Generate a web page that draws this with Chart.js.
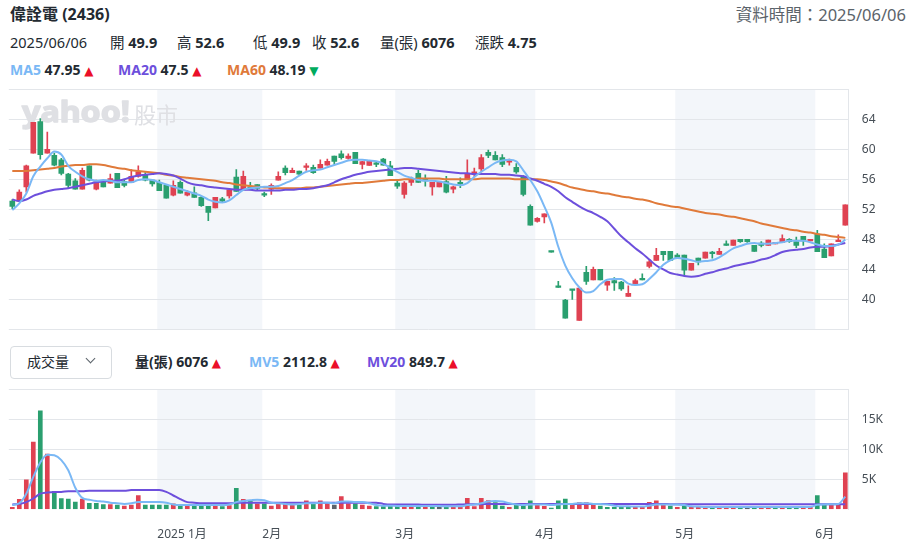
<!DOCTYPE html>
<html>
<head>
<meta charset="utf-8">
<script src="https://cdn.jsdelivr.net/npm/chart.js@4.4.1/dist/chart.umd.min.js"></script>
<style>
  body { margin: 0; width: 917px; height: 542px; position: relative; overflow: hidden; background: #fff;
         font-family: "Noto Sans", "Noto Sans CJK TC", sans-serif; color: #232a31; }
  .t { position: absolute; white-space: nowrap; line-height: 1; }
  .b { font-weight: 700; }
  .up { color: #eb0f29; font-family: "DejaVu Sans"; font-size: 12px; }
  .dn { color: #00ab5e; font-family: "DejaVu Sans"; font-size: 12px; }
  canvas { position: absolute; left: 0; }
  #box { position: absolute; left: 10px; top: 346px; width: 100px; height: 31px; border: 1.5px solid #d8dce0; border-radius: 4px; }
  #chev { position: absolute; left: 87px; top: 355px; width: 6px; height: 6px; border-right: 1.5px solid #5b636a; border-bottom: 1.5px solid #5b636a; transform: rotate(45deg); }
</style>
</head>
<body>
<div class="t b" style="left:10px;top:6px;font-size:16px">偉詮電 (2436)</div>
<div class="t" style="right:11px;top:7px;font-size:16.5px;color:#5b636a">資料時間：2025/06/06</div>

<div class="t" style="left:10px;top:35px;font-size:14.5px">2025/06/06</div>
<div class="t" style="left:110px;top:35px;font-size:14.5px">開 <span class="b">49.9</span></div>
<div class="t" style="left:177px;top:35px;font-size:14.5px">高 <span class="b">52.6</span></div>
<div class="t" style="left:253px;top:35px;font-size:14.5px">低 <span class="b">49.9</span></div>
<div class="t" style="left:312px;top:35px;font-size:14.5px">收 <span class="b">52.6</span></div>
<div class="t" style="left:380px;top:35px;font-size:14.5px">量(張) <span class="b">6076</span></div>
<div class="t" style="left:475px;top:35px;font-size:14.5px">漲跌 <span class="b">4.75</span></div>

<div class="t b" style="left:10px;top:63px;font-size:14px"><span style="color:#7ab8f5">MA5</span> 47.95 <span class="up">▲</span></div>
<div class="t b" style="left:118px;top:63px;font-size:14px"><span style="color:#6d4fdc">MA20</span> 47.5 <span class="up">▲</span></div>
<div class="t b" style="left:227px;top:63px;font-size:14px"><span style="color:#e07a3a">MA60</span> 48.19 <span class="dn">▼</span></div>

<canvas id="price" width="917" height="260" style="top:80px"></canvas>

<div id="box"></div>
<div class="t" style="left:27px;top:355px;font-size:14px">成交量</div>
<div id="chev"></div>
<div class="t b" style="left:135px;top:355px;font-size:14px">量(張) 6076 <span class="up">▲</span></div>
<div class="t b" style="left:249px;top:355px;font-size:14px"><span style="color:#7ab8f5">MV5</span> 2112.8 <span class="up">▲</span></div>
<div class="t b" style="left:367px;top:355px;font-size:14px"><span style="color:#6d4fdc">MV20</span> 849.7 <span class="up">▲</span></div>

<canvas id="vol" width="917" height="162" style="top:380px"></canvas>

<script>
// trading days per month
const dec = [3,4,5,6,9,10,11,12,13,16,17,18,19,20,23,24,25,26,27,30,31];
const jan = [2,3,6,7,8,9,10,13,14,15,16,17,20,21,22];
const feb = [3,4,5,6,7,10,11,12,13,14,17,18,19,20,21,24,25,26,27];
const mar = [3,4,5,6,7,10,11,12,13,14,17,18,19,20,21,24,25,26,27,28];
const apr = [1,2,7,8,9,10,11,14,15,16,17,18,21,22,23,24,25,28,29,30];
const may = [2,5,6,7,8,9,12,13,14,15,16,19,20,21,22,23,26,27,28,29];
const jun = [2,3,4,5,6];

const monthLabels = { 1: '2025 1月', 2: '2月', 3: '3月', 4: '4月', 5: '5月', 6: '6月' };
const shadedMonths = [1, 3, 5];

const opens = [
  53.1, 53.1, 55.0, 59.5, 63.7, 59.5, 59.2, 58.6, 56.7, 55.8,
  54.7, 57.8, 54.7, 55.6, 55.5, 56.8, 55.7, 55.6, 56.4, 56.6,
  55.9, 55.6, 55.2, 53.9, 55.6, 53.9, 54.2, 53.6, 52.4, 52.2,
  53.4, 53.8, 56.3, 54.6, 55.0, 55.3, 53.9, 54.7, 55.9, 57.5,
  56.9, 57.1, 57.6, 57.6, 57.5, 57.9, 59.1, 59.4, 58.8, 59.6,
  58.0, 57.85, 58.0, 58.7, 57.8, 55.5, 54.0, 55.6, 56.8, 56.0,
  55.0, 55.0, 55.7, 54.7, 55.6, 56.0, 56.8, 57.4, 59.6, 59.2,
  58.9, 58.3, 57.6, 56.3, 52.4, 50.4, 51.0, 46.3, 41.6, 39.9,
  41.2, 37.2, 43.6, 42.6, 44.0, 41.9, 42.5, 42.3, 40.4, 42.0,
  42.8, 44.4, 45.2, 46.4, 46.4, 45.9, 45.9, 43.9, 45.5, 45.5,
  46.3, 46.0, 47.2, 47.2, 48.0, 48.0, 47.2, 47.5, 47.2, 47.4,
  47.6, 48.0, 47.7, 48.4, 47.8, 48.7, 46.7, 45.8, 47.7, 49.9
];
const highs = [
  53.3, 54.6, 57.9, 63.6, 64.1, 62.3, 59.5, 58.8, 56.8, 56.1,
  57.5, 57.8, 55.9, 55.9, 56.7, 56.8, 55.9, 57.3, 57.8, 56.9,
  56.0, 55.9, 55.2, 55.8, 55.8, 54.5, 55.0, 53.7, 52.4, 53.6,
  53.6, 54.6, 57.3, 57.1, 55.6, 55.3, 54.3, 55.4, 57.0, 57.8,
  57.5, 57.1, 58.1, 57.9, 58.6, 58.7, 59.1, 59.8, 59.4, 59.6,
  58.4, 58.45, 58.4, 58.8, 58.4, 55.9, 55.7, 56.3, 57.2, 56.6,
  55.6, 55.6, 56.4, 55.1, 56.2, 58.6, 57.5, 59.3, 59.9, 59.7,
  59.3, 58.7, 58.1, 56.5, 52.6, 50.9, 51.4, 46.3, 42.4, 40.0,
  41.2, 41.5, 44.4, 44.3, 44.0, 42.4, 42.9, 42.4, 41.8, 42.7,
  43.4, 45.3, 46.8, 46.4, 46.4, 46.1, 45.9, 44.8, 45.5, 46.3,
  46.4, 46.8, 47.8, 47.9, 48.0, 48.0, 47.2, 47.7, 47.9, 47.6,
  48.6, 48.1, 48.3, 48.4, 48.0, 49.2, 47.4, 47.4, 48.6, 52.6
];
const lows = [
  52.1, 53.1, 54.3, 59.5, 58.7, 59.5, 57.8, 56.6, 54.8, 54.7,
  54.7, 55.8, 54.6, 55.0, 55.5, 54.9, 55.0, 55.6, 56.3, 55.8,
  55.1, 54.5, 53.5, 53.8, 54.15, 53.8, 53.6, 52.4, 50.5, 52.2,
  53.0, 53.5, 54.4, 54.6, 54.6, 54.6, 53.7, 54.0, 55.9, 56.6,
  56.9, 56.6, 57.2, 56.8, 57.5, 57.9, 58.0, 58.7, 58.7, 58.1,
  57.4, 57.85, 57.7, 57.9, 56.5, 54.8, 53.5, 55.2, 55.6, 55.1,
  53.9, 55.0, 54.2, 54.2, 54.9, 56.0, 56.4, 57.0, 58.9, 58.6,
  57.7, 57.9, 56.8, 53.8, 49.9, 50.3, 50.2, 46.3, 41.6, 37.5,
  40.0, 37.2, 42.0, 42.6, 42.6, 41.2, 41.2, 41.2, 40.4, 41.9,
  42.6, 44.2, 45.2, 45.2, 45.2, 45.6, 43.2, 43.9, 44.6, 45.5,
  45.5, 46.0, 47.2, 47.2, 47.6, 47.6, 46.4, 47.0, 47.2, 47.4,
  47.6, 47.6, 46.9, 47.2, 47.8, 46.35, 45.55, 45.8, 47.7, 49.9
];
const closes = [
  52.4, 54.3, 57.8, 63.6, 59.3, 60.0, 57.9, 56.8, 55.2, 54.7,
  57.2, 55.9, 55.7, 55.0, 56.1, 54.9, 55.2, 56.4, 57.0, 55.9,
  55.4, 54.5, 53.5, 55.2, 54.15, 54.25, 53.6, 52.5, 51.6, 53.6,
  53.1, 54.6, 54.4, 56.4, 54.7, 54.8, 53.9, 55.2, 56.4, 56.9,
  57.2, 56.7, 57.65, 56.9, 58.0, 58.4, 58.4, 58.9, 59.1, 58.1,
  58.35, 58.45, 58.0, 57.9, 56.5, 55.1, 55.5, 56.0, 55.6, 55.8,
  55.6, 55.6, 54.3, 55.0, 55.4, 56.7, 57.0, 58.9, 59.2, 58.6,
  58.0, 58.5, 57.0, 54.0, 49.9, 50.8, 51.4, 46.3, 41.6, 37.5,
  41.2, 41.5, 42.4, 44.0, 42.6, 42.4, 42.2, 41.4, 40.8, 42.5,
  42.6, 45.0, 45.85, 45.95, 45.2, 45.6, 43.9, 44.8, 45.0, 46.3,
  46.1, 46.4, 47.2, 47.9, 47.7, 47.7, 46.4, 47.2, 47.9, 47.6,
  48.1, 47.7, 47.2, 47.8, 48.0, 46.35, 45.55, 47.4, 47.85, 52.6
];

const ma5 = [
  51.9, 52.8, 54.1, 56.4, 57.7, 58.8, 59.7, 59.3, 57.8, 57.0,
  56.4, 56.0, 55.8, 55.9, 55.8, 55.6, 55.6, 55.6, 55.9, 56.0,
  55.9, 55.6, 55.3, 55.0, 54.7, 54.4, 54.1, 53.8, 53.3, 53.0,
  52.9, 53.2, 53.9, 54.6, 54.8, 54.9, 55.0, 55.0, 55.1, 55.5,
  55.9, 56.5, 57.0, 57.2, 57.3, 57.6, 57.9, 58.2, 58.5, 58.6,
  58.6, 58.5, 58.4, 58.1, 57.5, 57.0, 56.5, 56.2, 55.9, 55.8,
  55.8, 55.7, 55.5, 55.3, 55.2, 55.5, 56.3, 57.0, 57.6, 58.2,
  58.5, 58.6, 58.4, 57.2, 55.9, 54.4, 52.4, 50.2, 47.0, 44.5,
  42.8, 41.6, 40.9, 41.1, 42.0, 42.6, 42.7, 42.7, 42.1, 41.9,
  42.0, 42.7, 43.6, 44.6, 45.2, 45.5, 45.4, 45.2, 45.0, 45.1,
  45.2, 45.6, 46.2, 46.8, 47.1, 47.4, 47.5, 47.4, 47.4, 47.5,
  47.6, 47.8, 47.8, 47.8, 47.6, 47.3, 47.1, 47.1, 47.3, 47.95
];
const ma20 = [
  53.3, 53.1, 53.3, 53.8, 54.1, 54.4, 54.6, 54.7, 54.8, 55.0,
  55.2, 55.4, 55.6, 55.7, 55.8, 55.8, 56.0, 56.3, 56.5, 56.6,
  56.7, 56.8, 56.7, 56.5, 56.1, 55.6, 55.3, 55.2, 55.0, 54.9,
  54.8, 54.7, 54.6, 54.6, 54.6, 54.5, 54.5, 54.5, 54.5, 54.6,
  54.6, 54.7, 54.7, 54.8, 55.0, 55.2, 55.6, 56.0, 56.3, 56.6,
  56.8, 57.0, 57.1, 57.2, 57.3, 57.4, 57.5, 57.5, 57.4, 57.3,
  57.2, 57.1, 57.0, 56.9, 56.8, 56.8, 56.7, 56.7, 56.7, 56.7,
  56.6, 56.6, 56.5, 56.4, 56.1, 55.8, 55.4, 55.0, 54.4, 53.6,
  53.0, 52.4, 51.9, 51.5, 51.0, 50.4, 49.4, 48.4, 47.6, 46.8,
  46.1, 45.3, 44.5, 44.0, 43.5, 43.3, 43.1, 43.0, 43.1, 43.4,
  43.6, 43.9, 44.1, 44.4, 44.6, 44.8, 45.0, 45.3, 45.5, 45.9,
  46.3, 46.5, 46.6, 46.7, 46.9, 47.0, 47.0, 47.1, 47.3, 47.5
];
const ma60 = [
  57.1, 57.1, 57.1, 57.2, 57.3, 57.4, 57.5, 57.7, 57.8, 57.9,
  57.9, 58.0, 58.0, 57.9, 57.7, 57.5, 57.4, 57.2, 57.1, 57.0,
  56.9, 56.8, 56.6, 56.5, 56.3, 56.2, 56.1, 56.0, 55.9, 55.8,
  55.6, 55.5, 55.3, 55.2, 55.1, 55.0, 54.9, 54.9, 54.8, 54.8,
  54.8, 54.8, 54.9, 54.9, 55.0, 55.1, 55.2, 55.3, 55.4, 55.5,
  55.5, 55.6, 55.7, 55.8, 55.9, 55.9, 56.0, 56.0, 56.1, 56.1,
  56.1, 56.1, 56.0, 56.0, 56.0, 56.0, 56.0, 56.1, 56.1, 56.1,
  56.1, 56.1, 56.0, 56.0, 56.0, 56.0, 55.9, 55.7, 55.5, 55.2,
  54.9, 54.7, 54.5, 54.4, 54.2, 54.1, 53.9, 53.7, 53.6, 53.4,
  53.3, 53.1, 52.8, 52.6, 52.4, 52.3, 52.1, 51.9, 51.7, 51.5,
  51.4, 51.3, 51.1, 51.0, 50.8, 50.6, 50.4, 50.1, 49.9, 49.7,
  49.5, 49.3, 49.2, 49.0, 48.9, 48.7, 48.6, 48.4, 48.3, 48.19
];

const volumes = [
  330, 1670, 4900, 11200, 16400, 9200, 3000, 1800, 1700, 1200,
  1700, 1000, 1000, 800, 800, 700, 550, 700, 2300, 700,
  700, 700, 700, 900, 700, 550, 700, 700, 700, 700,
  450, 600, 3500, 1670, 1400, 900, 900, 550, 1000, 1000,
  700, 700, 1400, 1000, 1400, 1000, 700, 2100, 900, 900,
  700, 550, 450, 450, 550, 550, 550, 550, 550, 550,
  550, 550, 450, 450, 450, 1830, 450, 1830, 1450, 1100,
  550, 330, 700, 900, 1400, 700, 500, 200, 1400, 1700,
  850, 1100, 1100, 1000, 550, 330, 330, 450, 450, 450,
  450, 1150, 1400, 700, 550, 330, 550, 330, 330, 330,
  450, 330, 330, 330, 280, 330, 450, 280, 450, 330,
  330, 330, 330, 330, 330, 2300, 700, 650, 840, 6076
];
const mv5 = [
  700, 1000, 2600, 5400, 7800, 9100, 9000, 8200, 6500, 3600,
  1900, 1600, 1400, 1300, 1100, 1000, 900, 1000, 1200, 1200,
  1200, 1200, 1100, 800, 700, 700, 700, 700, 700, 700,
  700, 800, 1200, 1400, 1500, 1600, 1500, 1100, 1000, 900,
  800, 900, 1000, 1000, 1100, 1100, 1000, 1300, 1300, 1200,
  1200, 1000, 700, 600, 600, 550, 550, 550, 550, 550,
  550, 550, 500, 500, 500, 700, 800, 1000, 1300, 1400,
  1300, 1000, 800, 700, 800, 800, 800, 700, 800, 900,
  900, 1000, 1000, 900, 900, 800, 600, 500, 500, 450,
  450, 600, 800, 800, 800, 800, 700, 500, 450, 400,
  400, 400, 400, 400, 400, 400, 400, 400, 400, 400,
  400, 400, 400, 400, 400, 750, 800, 850, 900, 2113
];
const mv20 = [
  800, 900, 1200, 1800, 2600, 2800, 2900, 2900, 3000, 3000,
  3000, 3100, 3100, 3100, 3100, 3100, 3100, 3200, 3200, 3200,
  3200, 3200, 2900, 2300, 1700, 1200, 1100, 1000, 1000, 1000,
  1000, 1000, 1100, 1100, 1100, 1100, 1100, 1100, 1100, 1100,
  1100, 1100, 1100, 1100, 1100, 1100, 1100, 1100, 1100, 1100,
  1100, 1100, 1100, 900, 800, 800, 800, 800, 800, 750,
  750, 750, 750, 750, 800, 850, 850, 850, 900, 900,
  900, 900, 900, 900, 900, 900, 900, 900, 900, 900,
  900, 900, 900, 900, 900, 900, 900, 900, 900, 900,
  900, 900, 900, 900, 850, 850, 850, 850, 850, 850,
  850, 850, 850, 850, 850, 850, 850, 850, 850, 850,
  850, 850, 850, 850, 850, 850, 850, 850, 850, 850
];

const pad = d => String(d).padStart(2, '0');
const dates = [
  ...dec.map(d => '2024/12/' + pad(d)),
  ...jan.map(d => '2025/01/' + pad(d)),
  ...feb.map(d => '2025/02/' + pad(d)),
  ...mar.map(d => '2025/03/' + pad(d)),
  ...apr.map(d => '2025/04/' + pad(d)),
  ...may.map(d => '2025/05/' + pad(d)),
  ...jun.map(d => '2025/06/' + pad(d))
];
const monthOf = dates.map(s => +s.slice(5, 7));
const isMonthStart = monthOf.map((m, i) => i > 0 && m !== monthOf[i - 1]);

const RED = '#df4252', GREEN = '#2a9f6f', FLAT = '#5b636a';
const C_MA5 = '#7ab8f5', C_MA20 = '#6d4fdc', C_MA60 = '#e07a3a';
const GRID = '#e3e6ea', BAND = '#f3f6fa', TICK = '#464e56';
const FONT = '"Noto Sans", "Noto Sans CJK TC", sans-serif';

const candleColors = closes.map((c, i) => c > opens[i] ? RED : GREEN);
const volColors = closes.map((c, i) => i === 0 || c > closes[i - 1] ? RED : (c < closes[i - 1] ? GREEN : FLAT));

Chart.defaults.font.family = FONT;

const bandPlugin = {
  id: 'bands',
  beforeDraw(chart) {
    const { ctx, chartArea: a, scales: { x } } = chart;
    ctx.save();
    ctx.fillStyle = BAND;
    shadedMonths.forEach(m => {
      const first = monthOf.indexOf(m);
      const last = monthOf.lastIndexOf(m);
      const x0 = x.getPixelForValue(first) - 2;
      const x1 = last + 1 < monthOf.length ? x.getPixelForValue(last + 1) - 2 : a.right;
      ctx.fillRect(x0, a.top, x1 - x0, a.bottom - a.top);
    });
    ctx.restore();
  }
};

const watermark = {
  id: 'watermark',
  beforeDatasetsDraw(chart) {
    const { ctx } = chart;
    ctx.save();
    ctx.fillStyle = '#dfe0e4';
    ctx.strokeStyle = '#dfe0e4';
    ctx.lineWidth = 1.4;
    ctx.lineJoin = 'round';
    ctx.font = 'bold 29px "Noto Sans"';
    ctx.translate(22, 42);
    ctx.scale(1.11, 1);
    ctx.fillText('yahoo!', 0, 0);
    ctx.strokeText('yahoo!', 0, 0);
    ctx.setTransform(1, 0, 0, 1, 0, 0);
    ctx.font = '22px "Noto Sans CJK TC"';
    ctx.fillText('股市', 134, 43);
    ctx.restore();
  }
};

const lineDs = (data, color) => ({
  type: 'line', data, borderColor: color, borderWidth: 2, pointRadius: 0,
  tension: 0.4, cubicInterpolationMode: 'monotone', order: 0
});

const yBase = {
  position: 'right',
  grid: { color: GRID, drawTicks: false },
  border: { display: true, color: GRID },
  afterFit(s) { s.width = 68.2; s.paddingTop = 0; s.paddingBottom = 0; }
};

new Chart(document.getElementById('price'), {
  type: 'bar',
  data: {
    labels: dates,
    datasets: [
      lineDs(ma5, C_MA5),
      lineDs(ma20, C_MA20),
      lineDs(ma60, C_MA60),
      { data: lows.map((l, i) => [l, highs[i]]), backgroundColor: candleColors,
        barThickness: 1, grouped: false, minBarLength: 1, order: 2 },
      { data: opens.map((o, i) => [o, closes[i]]), backgroundColor: candleColors,
        barThickness: 5, grouped: false, minBarLength: 1.5, order: 1 }
    ]
  },
  options: {
    responsive: false, animation: false,
    layout: { padding: { left: 8.8, top: 9.3, bottom: 10.7, right: 0 } },
    plugins: { legend: { display: false }, tooltip: { enabled: false } },
    scales: {
      x: { display: false },
      y: { ...yBase, min: 36, max: 68,
        ticks: { stepSize: 4, padding: 13, color: TICK, font: { size: 12 },
          callback: v => (v > 36 && v < 68) ? String(v) : '' } }
    }
  },
  plugins: [bandPlugin, watermark]
});

new Chart(document.getElementById('vol'), {
  type: 'bar',
  data: {
    labels: dates,
    datasets: [
      lineDs(mv5, C_MA5),
      lineDs(mv20, C_MA20),
      { data: volumes, backgroundColor: volColors, barThickness: 4, order: 1 }
    ]
  },
  options: {
    responsive: false, animation: false,
    layout: { padding: { left: 8.8, top: 9.3, bottom: 0, right: 0 } },
    plugins: { legend: { display: false }, tooltip: { enabled: false } },
    scales: {
      x: {
        grid: { display: false }, border: { display: false },
        afterFit(s) { s.height = 32.7; s.paddingLeft = 0; s.paddingRight = 0; },
        ticks: { autoSkip: false, maxRotation: 0, minRotation: 0, align: 'start', labelOffset: -2,
          padding: 10, color: TICK, font: { size: 12 },
          callback: (v, i) => isMonthStart[i] ? monthLabels[monthOf[i]] : '' }
      },
      y: { ...yBase, min: 0, max: 20000,
        grid: { drawTicks: false, color: c => c.tick && c.tick.value === 0 ? 'rgba(0,0,0,0)' : GRID },
        ticks: { stepSize: 5000, padding: 13, color: TICK, font: { size: 12 },
          callback: v => (v > 0 && v < 20000) ? (v / 1000) + 'K' : '' } }
    }
  },
  plugins: [bandPlugin]
});
</script>
</body>
</html>
